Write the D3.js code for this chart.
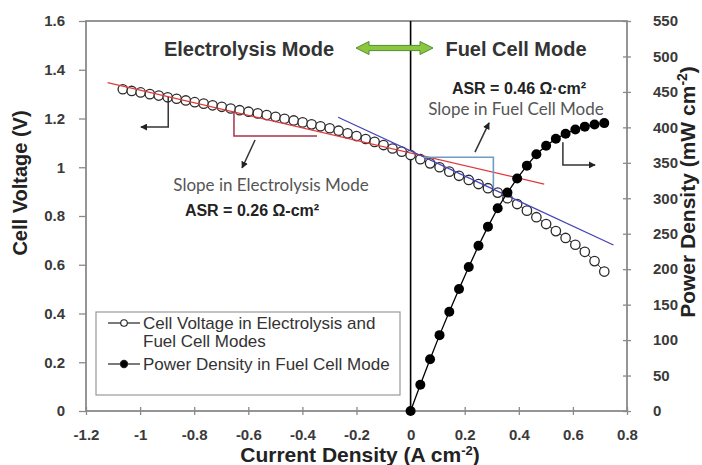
<!DOCTYPE html>
<html><head><meta charset="utf-8">
<script src="https://cdn.jsdelivr.net/npm/d3@7"></script>
<style>
body{margin:0;background:#fff;}
svg{display:block;}
text{font-family:"Liberation Sans",Arial,sans-serif;}
</style></head>
<body>
<svg id="chart" width="702" height="465"></svg>
<script>
// ---- data ----
const current = [-1.064,-1.031,-0.998,-0.964,-0.931,-0.898,-0.865,-0.831,-0.798,-0.765,-0.732,-0.698,-0.665,-0.632,-0.599,-0.565,-0.532,-0.499,-0.466,-0.432,-0.399,-0.366,-0.333,-0.299,-0.266,-0.233,-0.200,-0.166,-0.133,-0.100,-0.067,-0.033,
  0,0.036,0.072,0.107,0.143,0.179,0.215,0.251,0.286,0.322,0.358,0.394,0.430,0.465,0.501,0.537,0.573,0.609,0.644,0.680,0.716];
const voltage = [1.320,1.313,1.307,1.300,1.294,1.287,1.281,1.274,1.267,1.261,1.254,1.248,1.241,1.234,1.228,1.221,1.214,1.207,1.199,1.192,1.184,1.176,1.168,1.160,1.150,1.139,1.128,1.116,1.104,1.091,1.077,1.064,
  1.050,1.033,1.016,1.000,0.982,0.965,0.948,0.931,0.914,0.896,0.873,0.849,0.822,0.795,0.767,0.738,0.710,0.682,0.653,0.615,0.572];
const fcCurrent = [0,0.036,0.072,0.107,0.143,0.179,0.215,0.251,0.286,0.322,0.358,0.394,0.430,0.465,0.501,0.537,0.573,0.609,0.644,0.680,0.716];
const powerDensity = [0,37,73,107,140,172,203,233,260,286,308,328,346,362,374,384,391,397,401,404,406];
const xTicks = [-1.2,-1,-0.8,-0.6,-0.4,-0.2,0,0.2,0.4,0.6,0.8];
const yTicks = [0,0.2,0.4,0.6,0.8,1,1.2,1.4,1.6];
const y2Ticks = [0,50,100,150,200,250,300,350,400,450,500,550];
const fitElectrolysis = [[-1.12,1.347],[0.494,0.931]];
const fitFuelCell = [[-0.268,1.205],[0.750,0.681]];
const legendLabels = [["Cell Voltage in Electrolysis and","Fuel Cell Modes"],["Power Density in Fuel Cell Mode"]];

// ---- scales ----
const svg = d3.select("#chart");
const L=86, R=627, T=21, B=411;
const x = d3.scaleLinear().domain([-1.2,0.8]).range([L,R]);
const y = d3.scaleLinear().domain([0,1.6]).range([B,T]);
const y2 = d3.scaleLinear().domain([0,550]).range([B,T]);
const axisCol="#8a8a8a", labCol="#3a3a3a";

// frame
svg.append("rect").attr("x",L).attr("y",T).attr("width",R-L).attr("height",B-T)
  .attr("fill","none").attr("stroke",axisCol).attr("stroke-width",1.8);

// axes
const fmt = d => String(d);
const gx = svg.append("g").attr("transform",`translate(0,${B})`)
  .call(d3.axisBottom(x).tickValues(xTicks).tickFormat(fmt).tickSizeInner(4).tickSizeOuter(0).tickPadding(14));
const gy = svg.append("g").attr("transform",`translate(${L},0)`)
  .call(d3.axisLeft(y).tickValues(yTicks).tickFormat(fmt).tickSizeInner(7).tickSizeOuter(0).tickPadding(14));
const gy2 = svg.append("g").attr("transform",`translate(${R},0)`)
  .call(d3.axisRight(y2).tickValues(y2Ticks).tickFormat(fmt).tickSizeInner(4).tickSizeOuter(0).tickPadding(22));
[gx,gy,gy2].forEach(g=>{
  g.select(".domain").remove();
  g.selectAll("line").attr("stroke",axisCol).attr("stroke-width",1.3);
  g.selectAll("text").attr("fill",labCol).style("font-size","15px").style("font-weight","bold")
    .style("font-family","'Liberation Sans',Arial,sans-serif");
});
// crossing ticks on bottom and right
gx.selectAll(".tick line").attr("y1",-4);
gy2.selectAll(".tick line").attr("x1",-4);

// axis titles
svg.append("text").attr("transform","translate(27,183) rotate(-90)").attr("text-anchor","middle")
  .attr("fill","#222").style("font-size","20px").style("font-weight","bold").text("Cell Voltage (V)");
const t2 = svg.append("text").attr("transform","translate(695,192) rotate(-90)").attr("text-anchor","middle")
  .attr("fill","#222").style("font-size","21px").style("font-weight","bold");
t2.append("tspan").text("Power Density (mW cm");
t2.append("tspan").attr("dy",-8).style("font-size","14px").text("-2");
t2.append("tspan").attr("dy",8).text(")");
const t3 = svg.append("text").attr("x",360).attr("y",462).attr("text-anchor","middle")
  .attr("fill","#222").style("font-size","21px").style("font-weight","bold");
t3.append("tspan").text("Current Density (A cm");
t3.append("tspan").attr("dy",-7).style("font-size","13px").text("-2");
t3.append("tspan").attr("dy",7).text(")");

// zero line
svg.append("line").attr("x1",x(0)).attr("x2",x(0)).attr("y1",T).attr("y2",B)
  .attr("stroke","#000").attr("stroke-width",1.6);

// voltage series
const vData = current.map((c,i)=>({c, v:voltage[i]}));
svg.append("path").datum(vData).attr("fill","none").attr("stroke","#333").attr("stroke-width",1)
  .attr("d", d3.line().x(d=>x(d.c)).y(d=>y(d.v)));
svg.append("g").selectAll("circle").data(vData).join("circle")
  .attr("cx",d=>x(d.c)).attr("cy",d=>y(d.v)).attr("r",4.7)
  .attr("fill","#fff").attr("stroke","#2a2a2a").attr("stroke-width",1.3);

// fit lines
const fitLine = d3.line().x(d=>x(d[0])).y(d=>y(d[1]));
svg.append("path").datum(fitElectrolysis).attr("d",fitLine).attr("stroke","#e0393a").attr("stroke-width",1.2).attr("fill","none");
svg.append("path").datum(fitFuelCell).attr("d",fitLine).attr("stroke","#4444bb").attr("stroke-width",1.3).attr("fill","none");

// slope triangles
svg.append("path").datum([[-0.653,1.227],[-0.653,1.128],[-0.346,1.128]]).attr("d",fitLine)
  .attr("fill","none").attr("stroke","#a8324a").attr("stroke-width",1.5);
svg.append("path").datum([[0.0495,1.041],[0.306,1.041],[0.306,0.915]]).attr("d",fitLine)
  .attr("fill","none").attr("stroke","#6f9cc4").attr("stroke-width",1.6);

// power series
const pData = fcCurrent.map((c,i)=>({c, p:powerDensity[i]}));
svg.append("path").datum(pData).attr("fill","none").attr("stroke","#000").attr("stroke-width",1.3)
  .attr("d", d3.line().x(d=>x(d.c)).y(d=>y2(d.p)));
svg.append("g").selectAll("circle").data(pData).join("circle")
  .attr("cx",d=>x(d.c)).attr("cy",d=>y2(d.p)).attr("r",5).attr("fill","#000");

// arrows
const defs = svg.append("defs");
defs.append("marker").attr("id","ah").attr("viewBox","0 0 10 10").attr("refX",9).attr("refY",5)
  .attr("markerWidth",7).attr("markerHeight",7).attr("markerUnits","userSpaceOnUse").attr("orient","auto")
  .append("path").attr("d","M0,0 L10,5 L0,10 z").attr("fill","#222");
function arrow(pts){
  svg.append("path").attr("d",d3.line()(pts)).attr("fill","none").attr("stroke","#333")
    .attr("stroke-width",1.5).attr("marker-end","url(#ah)");
}
arrow([[x(-0.896),y(1.288)],[x(-0.896),y(1.165)],[x(-0.997),y(1.165)]]);
arrow([[x(-0.575),y(1.112)],[x(-0.623),y(0.997)]]);
arrow([[x(0.238),y(1.062)],[x(0.290),y(1.182)]]);
arrow([[x(0.563),y2(379)],[x(0.563),y2(347)],[x(0.682),y2(347)]]);

// mode labels
svg.append("text").attr("x",249).attr("y",56).attr("text-anchor","middle").attr("fill","#333")
  .style("font-size","20px").style("font-weight","bold").text("Electrolysis Mode");
svg.append("text").attr("x",516).attr("y",56).attr("text-anchor","middle").attr("fill","#333")
  .style("font-size","20px").style("font-weight","bold").text("Fuel Cell Mode");
// green double arrow
const ax0=356, ax1=433, ay=48, hl=13, hh=6.5, sh=2.6;
svg.append("path").attr("d",`M${ax0},${ay} L${ax0+hl},${ay-hh} L${ax0+hl},${ay-sh} L${ax1-hl},${ay-sh} L${ax1-hl},${ay-hh} L${ax1},${ay} L${ax1-hl},${ay+hh} L${ax1-hl},${ay+sh} L${ax0+hl},${ay+sh} L${ax0+hl},${ay+hh} Z`)
  .attr("fill","#8cc63f").attr("stroke","#4f8f2f").attr("stroke-width",1);

// slope annotations
svg.append("text").attr("x",519).attr("y",94).attr("text-anchor","middle").attr("fill","#222")
  .style("font-size","16px").style("font-weight","bold").text("ASR = 0.46 Ω·cm²");
svg.append("text").attr("x",516).attr("y",115).attr("text-anchor","middle").attr("fill","#555")
  .style("font-family","Lato,'Open Sans',sans-serif").style("font-size","17px").text("Slope in Fuel Cell Mode");
svg.append("text").attr("x",271).attr("y",191).attr("text-anchor","middle").attr("fill","#555")
  .style("font-family","Lato,'Open Sans',sans-serif").style("font-size","17px").text("Slope in Electrolysis Mode");
svg.append("text").attr("x",252).attr("y",216).attr("text-anchor","middle").attr("fill","#222")
  .style("font-size","16px").style("font-weight","bold").text("ASR = 0.26 Ω-cm²");

// legend
svg.append("rect").attr("x",96).attr("y",312).attr("width",304).attr("height",83)
  .attr("fill","#fff").attr("stroke","#999").attr("stroke-width",1.2);
const lg = svg.append("g");
[[323,false],[364,true]].forEach(([ly,filled])=>{
  lg.append("line").attr("x1",108).attr("x2",140).attr("y1",ly).attr("y2",ly).attr("stroke","#222").attr("stroke-width",1.2);
  lg.append("circle").attr("cx",124).attr("cy",ly).attr("r",filled?3.6:3.3)
    .attr("fill",filled?"#000":"#fff").attr("stroke","#222").attr("stroke-width",1.1);
});
lg.append("text").attr("x",143).attr("y",329).attr("fill","#333").style("font-size","17px").text(legendLabels[0][0]);
lg.append("text").attr("x",143).attr("y",347).attr("fill","#333").style("font-size","17px").text(legendLabels[0][1]);
lg.append("text").attr("x",143).attr("y",370).attr("fill","#333").style("font-size","17px").text(legendLabels[1][0]);
</script>
</body></html>
